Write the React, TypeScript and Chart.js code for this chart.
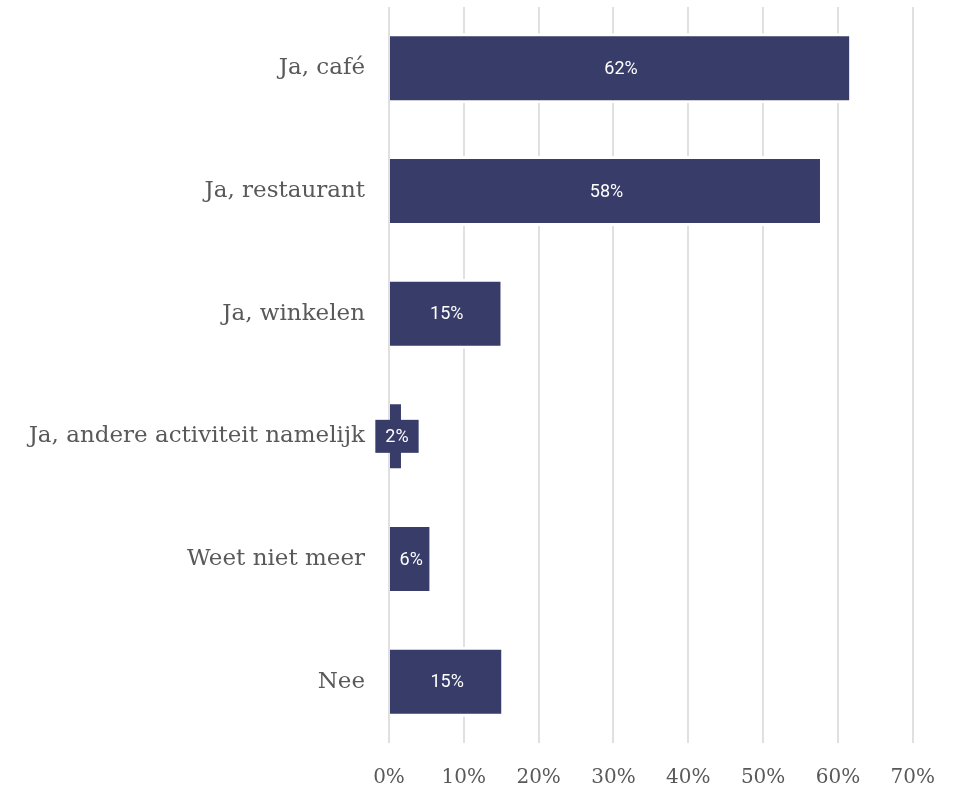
import React, { useEffect, useRef } from "react";
import { Chart, registerables } from "chart.js";

Chart.register(...registerables);

const categories = [
  "Ja, café",
  "Ja, restaurant",
  "Ja, winkelen",
  "Ja, andere activiteit namelijk",
  "Weet niet meer",
  "Nee",
];
const values = [61.9, 58.0, 15.3, 2.0, 5.8, 15.4];
const xTicks = [0, 10, 20, 30, 40, 50, 60, 70];

const BAR = "#383c68";
const GRID = "#e0e0e0";
const TEXT = "#595959";

const labelPlugin = {
  id: "barLabels",
  afterDatasetsDraw(chart: any) {
    const ctx = chart.ctx;
    const meta = chart.getDatasetMeta(0);
    ctx.save();
    ctx.font = "18px Roboto";
    ctx.textAlign = "center";
    ctx.textBaseline = "middle";
    meta.data.forEach((el: any, i: number) => {
      const txt = Math.round(values[i]) + "%";
      const cx = (el.x + el.base) / 2;
      const cy = el.y;
      const w = ctx.measureText(txt).width;
      const barW = Math.abs(el.x - el.base);
      if (w + 12 > barW) {
        const bw = w + 20;
        const bh = 33;
        ctx.fillStyle = BAR;
        ctx.fillRect(cx - bw / 2, cy - bh / 2, bw, bh);
      }
      ctx.fillStyle = "#ffffff";
      ctx.fillText(txt, cx, cy + 1);
    });
    ctx.restore();
  },
};

export default function App() {
  const ref = useRef<HTMLCanvasElement>(null);
  useEffect(() => {
    if (!ref.current) return;
    const chart = new Chart(ref.current, {
      type: "bar",
      data: {
        labels: categories,
        datasets: [
          {
            data: values,
            backgroundColor: BAR,
            borderColor: "#ffffff",
            borderWidth: 3,
            borderSkipped: "start",
            barThickness: 70,
            inflateAmount: 0,
          } as any,
        ],
      },
      options: {
        indexAxis: "y",
        animation: false,
        responsive: false,
        devicePixelRatio: 1,
        layout: { padding: { top: 7, right: 45, left: 0, bottom: 0 } },
        plugins: {
          legend: { display: false },
          tooltip: { enabled: false },
        },
        scales: {
          x: {
            min: 0,
            max: 70,
            afterBuildTicks: (s: any) => {
              s.ticks = xTicks.map((v) => ({ value: v }));
            },
            afterFit: (s: any) => {
              s.height = 44;
            },
            border: { display: false },
            grid: { color: GRID, lineWidth: 2, drawTicks: false },
            ticks: {
              padding: 23,
              color: TEXT,
              font: { family: "DejaVu Serif", size: 20 },
              callback: (v: any) => v + "%",
            },
          },
          y: {
            afterFit: (s: any) => {
              s.width = 389;
              s.paddingTop = 0;
              s.paddingBottom = 0;
            },
            border: { display: false },
            grid: { display: false, drawTicks: false },
            ticks: {
              padding: 24,
              color: TEXT,
              font: { family: "DejaVu Serif", size: 23 },
            },
          },
        },
      },
      plugins: [labelPlugin],
    });
    return () => chart.destroy();
  }, []);
  return (
    <div style={{ position: "absolute", left: 0, top: 0, width: 958, height: 787 }}>
      <canvas ref={ref} width={958} height={787} />
    </div>
  );
}
